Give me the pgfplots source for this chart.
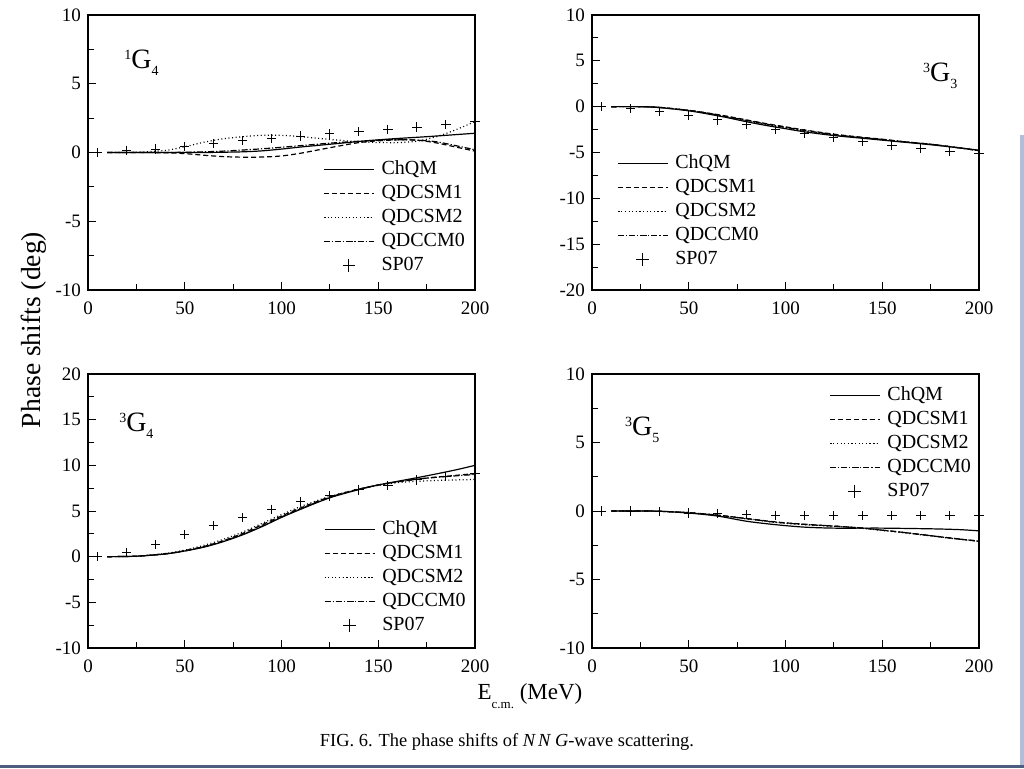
\documentclass[border=0pt]{standalone}
\usepackage{pgfplots}
\pgfplotsset{compat=1.18}
\usepackage{fontspec}
\setmainfont{Liberation Serif}

\newcommand{\wave}[3]{{\fontsize{14}{16}\selectfont\raisebox{4.5pt}{\fontsize{7}{8}\selectfont #1}G\raisebox{-3.5pt}{\fontsize{7}{8}\selectfont #2}}}

\pgfplotsset{
  panel/.style={
    scale only axis, width=193.5pt, height=137.5pt,
    xmin=0, xmax=200, xtick={0,50,...,200},
    minor x tick num=1, minor y tick num=1,
    tick pos=left, tick align=inside,
    major tick length=4pt, minor tick length=3pt,
    every tick/.style={black, line width=0.5pt},
    axis line style={line width=0.6pt},
    tick label style={font=\fontsize{9.5}{11}\selectfont},
    xticklabel style={yshift=-2.5pt},
    /pgf/number format/assume math mode=true,
    legend cell align=left,
    legend style={draw=none, fill=none, anchor=north west, inner sep=0pt,
      row sep=0pt, column sep=2pt, font=\fontsize{10}{12}\selectfont,
      nodes={text height=7pt, text depth=2pt, inner ysep=1.5pt, inner xsep=1.5pt}},
    legend image code/.code={\draw[mark repeat=2,mark phase=2,##1] plot coordinates {(0pt,0pt) (12.5pt,0pt) (25pt,0pt)};},
  },
  chqm/.style={black, line width=0.6pt, smooth, no marks},
  qda/.style={black, line width=0.6pt, smooth, no marks, dash pattern=on 2.5pt off 1.5pt},
  qdb/.style={black, line width=0.6pt, smooth, no marks, dash pattern=on 0.5pt off 1.3pt},
  qdc/.style={black, line width=0.6pt, smooth, no marks, dash pattern=on 3pt off 1pt on 0.6pt off 1pt},
  sp/.style={black, only marks, mark=+, mark size=2.3pt, mark options={line width=0.5pt, solid},
    legend image code/.code={\draw[##1, mark size=3.2pt] plot coordinates {(12.5pt,0pt)};}},
}

\begin{document}
\begin{tikzpicture}
\useasboundingbox (0,0) rectangle (512pt,384pt);
\fill[white] (0,0) rectangle (512pt,384pt);
\fill[color={rgb,255:red,78;green,94;blue,128}] (0,0) rectangle (512pt,1.6pt);
\fill[color={rgb,255:red,176;green,190;blue,218}] (509.8pt,1.6pt) rectangle (512pt,316.5pt);

% ---------------- 1G4 ----------------
\begin{axis}[panel, at={(44pt,239pt)}, anchor=south west,
  ymin=-10, ymax=10, ytick={-10,-5,...,10},
  legend style={at={(rel axis cs:0.607,0.484)}}]
\addplot[chqm] coordinates {(10,0) (25,0) (40,0) (50,0) (60,0) (70,0.02) (80,0.05) (90,0.12) (100,0.25) (110,0.4) (125,0.6) (140,0.8) (150,0.92) (160,1.02) (175,1.15) (190,1.3) (200,1.4)};
\addlegendentry{ChQM}
\addplot[qda] coordinates {(10,0) (25,0) (40,-0.02) (50,-0.08) (60,-0.2) (70,-0.3) (80,-0.34) (90,-0.33) (100,-0.25) (110,-0.05) (125,0.35) (140,0.72) (150,0.85) (160,0.92) (170,0.9) (180,0.7) (190,0.4) (200,0.1)};
\addlegendentry{QDCSM1}
\addplot[qdb] coordinates {(10,0) (25,0.02) (40,0.15) (50,0.42) (60,0.75) (70,1.0) (80,1.15) (90,1.25) (100,1.25) (110,1.15) (125,0.95) (140,0.78) (150,0.73) (160,0.72) (170,0.82) (180,1.15) (190,1.65) (200,2.25)};
\addlegendentry{QDCSM2}
\addplot[qdc] coordinates {(10,0) (25,0) (40,0) (50,0.02) (60,0.05) (70,0.1) (80,0.18) (90,0.27) (100,0.38) (110,0.5) (125,0.68) (140,0.82) (150,0.9) (160,0.93) (170,0.9) (180,0.78) (190,0.5) (200,0.2)};
\addlegendentry{QDCCM0}
\addplot[sp] coordinates {(5,0) (20,0.15) (35,0.25) (50,0.45) (65,0.65) (80,0.85) (95,1.0) (110,1.2) (125,1.35) (140,1.5) (155,1.7) (170,1.85) (185,2.05) (200,2.25)};
\addlegendentry{SP07}
\node at (rel axis cs:0.138,0.825) {\wave{1}{4}{}};
\end{axis}

% ---------------- 3G3 ----------------
\begin{axis}[panel, at={(296pt,239pt)}, anchor=south west,
  ymin=-20, ymax=10, ytick={-20,-15,...,10},
  legend style={at={(rel axis cs:0.064,0.505)}}]
\addplot[chqm] coordinates {(10,0) (25,0) (35,-0.1) (50,-0.45) (60,-0.8) (70,-1.2) (80,-1.65) (90,-2.05) (100,-2.4) (110,-2.75) (125,-3.15) (140,-3.45) (150,-3.65) (160,-3.85) (175,-4.15) (190,-4.5) (200,-4.75)};
\addlegendentry{ChQM}
\addplot[qda] coordinates {(10,0) (25,0) (35,-0.08) (50,-0.4) (60,-0.7) (70,-1.05) (80,-1.45) (90,-1.85) (100,-2.2) (110,-2.55) (125,-3.0) (140,-3.35) (150,-3.55) (160,-3.8) (175,-4.1) (190,-4.5) (200,-4.8)};
\addlegendentry{QDCSM1}
\addplot[qdb] coordinates {(10,0) (25,0) (35,-0.1) (50,-0.42) (60,-0.75) (70,-1.15) (80,-1.55) (90,-1.95) (100,-2.3) (110,-2.65) (125,-3.1) (140,-3.4) (150,-3.6) (160,-3.8) (175,-4.1) (190,-4.5) (200,-4.8)};
\addlegendentry{QDCSM2}
\addplot[qdc] coordinates {(10,0) (25,0) (35,-0.08) (50,-0.4) (60,-0.72) (70,-1.1) (80,-1.5) (90,-1.9) (100,-2.25) (110,-2.6) (125,-3.05) (140,-3.38) (150,-3.58) (160,-3.8) (175,-4.1) (190,-4.5) (200,-4.8)};
\addlegendentry{QDCCM0}
\addplot[sp] coordinates {(5,0) (20,-0.2) (35,-0.55) (50,-1.0) (65,-1.45) (80,-1.95) (95,-2.5) (110,-2.9) (125,-3.35) (140,-3.8) (155,-4.2) (170,-4.6) (185,-4.9) (200,-5.15)};
\addlegendentry{SP07}
\node at (rel axis cs:0.9,0.78) {\wave{3}{3}{}};
\end{axis}

% ---------------- 3G4 ----------------
\begin{axis}[panel, at={(44pt,60pt)}, anchor=south west, height=137pt,
  ymin=-10, ymax=20, ytick={-10,-5,...,20},
  legend style={at={(rel axis cs:0.609,0.478)}}]
\addplot[chqm] coordinates {(10,0) (25,0.05) (40,0.3) (50,0.62) (60,1.05) (70,1.65) (80,2.4) (90,3.3) (100,4.3) (110,5.2) (125,6.45) (140,7.35) (150,7.85) (160,8.25) (175,8.85) (190,9.5) (200,10.0)};
\addlegendentry{ChQM}
\addplot[qda] coordinates {(10,0) (25,0.05) (40,0.32) (50,0.66) (60,1.12) (70,1.75) (80,2.55) (90,3.5) (100,4.45) (110,5.35) (125,6.55) (140,7.4) (150,7.85) (160,8.2) (175,8.6) (190,8.9) (200,9.1)};
\addlegendentry{QDCSM1}
\addplot[qdb] coordinates {(10,0) (25,0.06) (40,0.35) (50,0.72) (60,1.25) (70,1.9) (80,2.7) (90,3.65) (100,4.6) (110,5.5) (125,6.6) (140,7.4) (150,7.8) (160,8.1) (175,8.3) (190,8.4) (200,8.45)};
\addlegendentry{QDCSM2}
\addplot[qdc] coordinates {(10,0) (25,0.05) (40,0.3) (50,0.63) (60,1.08) (70,1.7) (80,2.45) (90,3.35) (100,4.35) (110,5.25) (125,6.5) (140,7.38) (150,7.85) (160,8.2) (175,8.6) (190,8.85) (200,9.0)};
\addlegendentry{QDCCM0}
\addplot[sp] coordinates {(5,0) (20,0.5) (35,1.35) (50,2.4) (65,3.4) (80,4.25) (95,5.2) (110,6.0) (125,6.65) (140,7.3) (155,7.75) (170,8.4) (185,8.75) (200,9.1)};
\addlegendentry{SP07}
\node at (rel axis cs:0.125,0.81) {\wave{3}{4}{}};
\end{axis}

% ---------------- 3G5 ----------------
\begin{axis}[panel, at={(296pt,60pt)}, anchor=south west, height=137pt,
  ymin=-10, ymax=10, ytick={-10,-5,...,10},
  legend style={at={(rel axis cs:0.612,0.967)}}]
\addplot[chqm] coordinates {(10,0) (25,0) (35,-0.02) (50,-0.15) (65,-0.37) (80,-0.75) (95,-1.0) (110,-1.18) (125,-1.25) (140,-1.25) (150,-1.25) (175,-1.3) (190,-1.36) (200,-1.45)};
\addlegendentry{ChQM}
\addplot[qda] coordinates {(10,0) (25,0) (35,-0.02) (50,-0.12) (65,-0.3) (80,-0.55) (95,-0.8) (110,-0.97) (125,-1.1) (140,-1.25) (150,-1.4) (160,-1.55) (175,-1.8) (190,-2.05) (200,-2.2)};
\addlegendentry{QDCSM1}
\addplot[qdb] coordinates {(10,0) (25,0) (35,-0.02) (50,-0.13) (65,-0.32) (80,-0.58) (95,-0.83) (110,-1.0) (125,-1.12) (140,-1.27) (150,-1.42) (160,-1.57) (175,-1.82) (190,-2.07) (200,-2.22)};
\addlegendentry{QDCSM2}
\addplot[qdc] coordinates {(10,0) (25,0) (35,-0.02) (50,-0.12) (65,-0.31) (80,-0.56) (95,-0.82) (110,-0.98) (125,-1.1) (140,-1.25) (150,-1.4) (160,-1.55) (175,-1.8) (190,-2.05) (200,-2.2)};
\addlegendentry{QDCCM0}
\addplot[sp] coordinates {(5,0) (20,0) (35,-0.05) (50,-0.15) (65,-0.2) (80,-0.25) (95,-0.3) (110,-0.32) (125,-0.33) (140,-0.33) (155,-0.33) (170,-0.33) (185,-0.33) (200,-0.33)};
\addlegendentry{SP07}
\node at (rel axis cs:0.13,0.795) {\wave{3}{5}{}};
\end{axis}

% ---------------- global labels ----------------
\node[rotate=90, font=\fontsize{13.8}{16}\selectfont] at (16.75pt,219pt) {Phase shifts (deg)};
\node[anchor=base, font=\fontsize{11.5}{13}\selectfont] at (265pt,34.5pt) {E\raisebox{-4.5pt}{\fontsize{6.5}{8}\selectfont c.m.} (MeV)};
\node[anchor=base, font=\fontsize{9.2}{11}\selectfont] at (253.5pt,11pt) {FIG. 6. The phase shifts of \textit{N\,N G}-wave scattering.};
\end{tikzpicture}
\end{document}
